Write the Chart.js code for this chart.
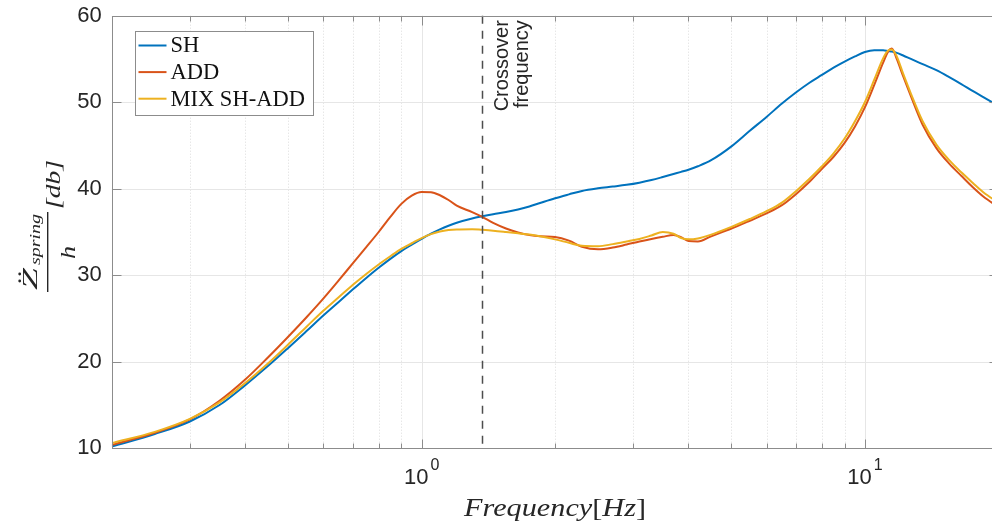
<!DOCTYPE html>
<html>
<head>
<meta charset="utf-8">
<title>Sprung mass acceleration</title>
<script src="https://cdn.jsdelivr.net/npm/chart.js@4.4.1/dist/chart.umd.min.js"></script>
<style>
  html, body { margin: 0; padding: 0; background: #fff; overflow: hidden; }
  #wrap { width: 992px; height: 529px; overflow: hidden; }
  canvas { display: block; }
</style>
</head>
<body>
<div id="wrap"><canvas id="mycanvas" width="1000" height="529"></canvas></div>
<script>
// frequency response, Hz
var freq = [0.2, 0.25, 0.3, 0.35, 0.4, 0.45, 0.5, 0.55, 0.6, 0.65, 0.7, 0.75, 0.8, 0.85, 0.9, 0.95,
            1.0, 1.05, 1.1, 1.15, 1.2, 1.3, 1.37, 1.45, 1.55, 1.65, 1.75, 1.85,
            2.0, 2.15, 2.3, 2.5, 2.7, 2.9, 3.1, 3.3, 3.5, 3.7, 3.85,
            4.0, 4.2, 4.5, 5.0, 5.5, 6.0, 6.5, 7.0, 7.5, 8.0, 8.5, 9.0, 9.5,
            10.0, 10.5, 11.0, 11.3, 11.5, 11.8, 12.2, 12.7, 13.5, 14.5, 15.5, 16.5, 17.5, 18.5, 20];

var sh = [10.2, 11.65, 13.1, 15.0, 17.3, 19.5, 21.6, 23.55, 25.35, 26.92, 28.37, 29.69, 30.87, 31.9, 32.79, 33.53,
          34.2, 34.8, 35.3, 35.72, 36.07, 36.56, 36.81, 37.05, 37.3, 37.6, 37.95, 38.35,
          38.9, 39.35, 39.75, 40.05, 40.25, 40.45, 40.7, 41.0, 41.35, 41.7, 41.95,
          42.2, 42.6, 43.3, 44.9, 46.7, 48.3, 49.85, 51.15, 52.25, 53.15, 54.0, 54.7, 55.3,
          55.8, 56.0, 56.0, 55.9, 55.85, 55.7, 55.4, 55.0, 54.4, 53.7, 52.9, 52.1, 51.3, 50.6, 49.6];

var add = [10.4, 11.8, 13.35, 15.5, 17.95, 20.5, 22.9, 25.15, 27.3, 29.4, 31.4, 33.25, 35.0, 36.75, 38.25, 39.2,
           39.62, 39.6, 39.25, 38.7, 38.05, 37.3, 36.75, 36.05, 35.4, 34.95, 34.65, 34.5,
           34.42, 34.0, 33.3, 33.0, 33.2, 33.55, 33.9, 34.2, 34.45, 34.65, 34.4,
           33.95, 33.9, 34.5, 35.4, 36.3, 37.15, 38.1, 39.4, 40.8, 42.3, 43.7, 45.3, 47.2,
           49.4, 52.0, 54.6, 55.9, 56.2, 55.0, 53.0, 50.7, 47.4, 44.7, 42.9, 41.5, 40.2, 39.1, 37.9];

var mix = [10.6, 11.9, 13.4, 15.3, 17.55, 19.8, 22.0, 24.05, 25.9, 27.45, 28.9, 30.15, 31.25, 32.2, 33.05, 33.7,
           34.3, 34.75, 35.05, 35.22, 35.3, 35.33, 35.25, 35.15, 35.0, 34.85, 34.7, 34.5,
           34.15, 33.75, 33.4, 33.35, 33.6, 33.9, 34.2, 34.6, 35.0, 34.8, 34.3,
           34.15, 34.25, 34.7, 35.6, 36.5, 37.4, 38.4, 39.75, 41.15, 42.6, 44.1, 45.8, 47.8,
           50.0, 52.6, 55.1, 56.0, 56.1, 55.3, 53.3, 51.0, 47.8, 45.1, 43.3, 41.9, 40.7, 39.6, 38.4];

var seriesNames = ['SH', 'ADD', 'MIX SH-ADD'];
var seriesColors = ['#0072BD', '#D95319', '#EDB120'];

var yTicks = [10, 20, 30, 40, 50, 60];
var xMajor = [1, 10];
var xMinor = [0.3, 0.4, 0.5, 0.6, 0.7, 0.8, 0.9, 2, 3, 4, 5, 6, 7, 8, 9];
var crossover = 1.37;
var crossoverText = ['Crossover', 'frequency'];

var axisColor = '#8c8c8c';
var textColor = '#262626';
var sans = '"Liberation Sans", Arial, sans-serif';
var serif = '"Liberation Serif", "Times New Roman", serif';

function pts(ys) {
  return freq.map(function(f, i) { return { x: f, y: ys[i] }; });
}

function seg(ctx, x1, y1, x2, y2) {
  ctx.beginPath();
  ctx.moveTo(x1, y1);
  ctx.lineTo(x2, y2);
  ctx.stroke();
}

// text squeezed/stretched to fill a given width
function fitText(ctx, txt, font, x0, x1, base) {
  ctx.font = font;
  var w = ctx.measureText(txt).width;
  ctx.save();
  ctx.translate(x0, base);
  ctx.scale((x1 - x0) / w, 1);
  ctx.textAlign = 'left';
  ctx.textBaseline = 'alphabetic';
  ctx.fillText(txt, 0, 0);
  ctx.restore();
}

var axesPlugin = {
  id: 'matlabAxes',
  beforeDatasetsDraw: function(chart) {
    var ctx = chart.ctx, a = chart.chartArea;
    var xs = chart.scales.x, ys = chart.scales.y;
    ctx.save();
    ctx.lineWidth = 1;
    ctx.strokeStyle = '#dcdcdc';
    ctx.setLineDash([1, 2]);
    xMinor.forEach(function(v) {
      var px = Math.round(xs.getPixelForValue(v)) + 0.5;
      seg(ctx, px, a.top, px, a.bottom);
    });
    ctx.setLineDash([]);
    ctx.strokeStyle = '#e6e6e6';
    xMajor.forEach(function(v) {
      var px = Math.round(xs.getPixelForValue(v)) + 0.5;
      seg(ctx, px, a.top, px, a.bottom);
    });
    yTicks.forEach(function(v) {
      var py = Math.round(ys.getPixelForValue(v)) + 0.5;
      seg(ctx, a.left, py, a.right, py);
    });
    ctx.restore();
  },
  afterDatasetsDraw: function(chart) {
    var ctx = chart.ctx, a = chart.chartArea;
    var xs = chart.scales.x, ys = chart.scales.y;
    var L = Math.round(a.left) + 0.5, R = Math.round(a.right) + 0.5;
    var T = Math.round(a.top) + 0.5, B = Math.round(a.bottom) + 0.5;
    ctx.save();

    // crossover marker
    var cx = Math.round(xs.getPixelForValue(crossover)) + 0.5;
    ctx.strokeStyle = '#4d4d4d';
    ctx.lineWidth = 1.5;
    ctx.setLineDash([8, 7]);
    seg(ctx, cx, a.top, cx, a.bottom);
    ctx.setLineDash([]);

    // box
    ctx.strokeStyle = axisColor;
    ctx.lineWidth = 1;
    ctx.strokeRect(L, T, R - L, B - T);

    // inward ticks
    xMajor.concat(xMinor).forEach(function(v) {
      var len = xMajor.indexOf(v) >= 0 ? 9 : 5;
      var px = Math.round(xs.getPixelForValue(v)) + 0.5;
      seg(ctx, px, B, px, B - len);
      seg(ctx, px, T, px, T + len);
    });
    yTicks.forEach(function(v) {
      var py = Math.round(ys.getPixelForValue(v)) + 0.5;
      seg(ctx, L, py, L + 9, py);
      seg(ctx, R, py, R - 9, py);
    });
    ctx.restore();
  },
  afterDraw: function(chart) {
    var ctx = chart.ctx, a = chart.chartArea;
    var xs = chart.scales.x;
    ctx.save();
    ctx.fillStyle = textColor;

    // x tick labels 10^n
    xMajor.forEach(function(v) {
      var px = xs.getPixelForValue(v);
      var exp = String(Math.round(Math.log10(v)));
      ctx.font = '22px ' + sans;
      var wb = ctx.measureText('10').width;
      ctx.font = '16px ' + sans;
      var we = ctx.measureText(exp).width;
      var x0 = px - (wb + we + 2) / 2;
      ctx.textAlign = 'left';
      ctx.textBaseline = 'alphabetic';
      ctx.font = '22px ' + sans;
      ctx.fillText('10', x0, a.bottom + 36);
      ctx.font = '16px ' + sans;
      ctx.fillText(exp, x0 + wb + 2, a.bottom + 22);
    });

    // x axis title
    var parts = [['Frequency', 'italic'], ['[', ''], ['Hz', 'italic'], [']', '']];
    var total = 0;
    parts.forEach(function(p) {
      ctx.font = p[1] + ' 25px ' + serif;
      p.push(ctx.measureText(p[0]).width);
      total += p[2];
    });
    var targetW = 182;
    var k = targetW / total;
    var mid = (a.left + a.right) / 2;
    ctx.save();
    ctx.translate(mid - targetW / 2, a.bottom + 68);
    ctx.scale(k, 1);
    var cur = 0;
    parts.forEach(function(p) {
      ctx.font = p[1] + ' 25px ' + serif;
      ctx.fillText(p[0], cur, 0);
      cur += p[2];
    });
    ctx.restore();

    // y axis title, rotated fraction
    ctx.save();
    ctx.translate(47.7, 292);
    ctx.rotate(-Math.PI / 2);
    ctx.fillStyle = textColor;
    ctx.fillRect(0, -0.7, 80, 1.4);
    fitText(ctx, 'Z', 'italic 21px ' + serif, 2, 24, -10.5);
    ctx.beginPath();
    ctx.arc(11, -28, 1.4, 0, 2 * Math.PI);
    ctx.arc(18, -28, 1.4, 0, 2 * Math.PI);
    ctx.fill();
    fitText(ctx, 'spring', 'italic 15px ' + serif, 27, 78, -7.5);
    fitText(ctx, 'h', 'italic 21px ' + serif, 33, 46, 27);
    fitText(ctx, '[db]', 'italic 21px ' + serif, 83, 132, 12);
    ctx.restore();

    // crossover note
    var cx = xs.getPixelForValue(crossover);
    ctx.save();
    ctx.rotate(-Math.PI / 2);
    ctx.font = '20px ' + sans;
    ctx.textAlign = 'right';
    ctx.textBaseline = 'alphabetic';
    ctx.fillText(crossoverText[0], -(a.top + 4.5), cx + 25.7);
    ctx.fillText(crossoverText[1], -(a.top + 4.5), cx + 45.7);
    ctx.restore();

    // legend
    var bx = Math.round(a.left + 23.5) + 0.5, by = Math.round(a.top + 15.5) + 0.5;
    var bw = 178, bh = 84;
    ctx.fillStyle = '#fff';
    ctx.fillRect(bx, by, bw, bh);
    ctx.strokeStyle = axisColor;
    ctx.lineWidth = 1;
    ctx.strokeRect(bx, by, bw, bh);
    chart.data.datasets.forEach(function(ds, i) {
      var ry = by + 14 + i * 26.6;
      ctx.strokeStyle = ds.borderColor;
      ctx.lineWidth = 2;
      seg(ctx, bx + 3, ry, bx + 31, ry);
      ctx.fillStyle = '#111';
      ctx.font = '22.5px ' + serif;
      ctx.textAlign = 'left';
      ctx.textBaseline = 'middle';
      ctx.fillText(ds.label, bx + 35, ry + 1);
    });
    ctx.restore();
  }
};

var datasets = [sh, add, mix].map(function(ys, i) {
  return {
    label: seriesNames[i],
    data: pts(ys),
    borderColor: seriesColors[i],
    backgroundColor: seriesColors[i],
    borderWidth: 2,
    pointRadius: 0,
    fill: false,
    cubicInterpolationMode: 'monotone',
    order: 3 - i
  };
});

var ctx = document.getElementById('mycanvas');
var chart = new Chart(ctx, {
  type: 'line',
  data: { datasets: datasets },
  options: {
    responsive: false,
    animation: false,
    devicePixelRatio: 1,
    layout: { padding: { left: 0, right: 1.7, top: 15.7, bottom: 0 } },
    plugins: { legend: { display: false }, tooltip: { enabled: false } },
    scales: {
      x: {
        type: 'logarithmic',
        min: 0.2,
        max: 20,
        afterFit: function(s) {
          s.height = 80.7;
          s.paddingLeft = 0;
          s.paddingRight = 0;
        },
        ticks: { display: false },
        grid: { display: false, drawTicks: false },
        border: { display: false }
      },
      y: {
        min: 10,
        max: 60,
        afterFit: function(s) {
          s.width = 111.8;
          s.paddingTop = 0;
          s.paddingBottom = 0;
        },
        afterBuildTicks: function(s) {
          s.ticks = yTicks.map(function(v) { return { value: v }; });
        },
        ticks: { color: textColor, font: { family: sans, size: 22 }, padding: 10 },
        grid: { display: false, drawTicks: false },
        border: { display: false }
      }
    }
  },
  plugins: [axesPlugin]
});
</script>
</body>
</html>
